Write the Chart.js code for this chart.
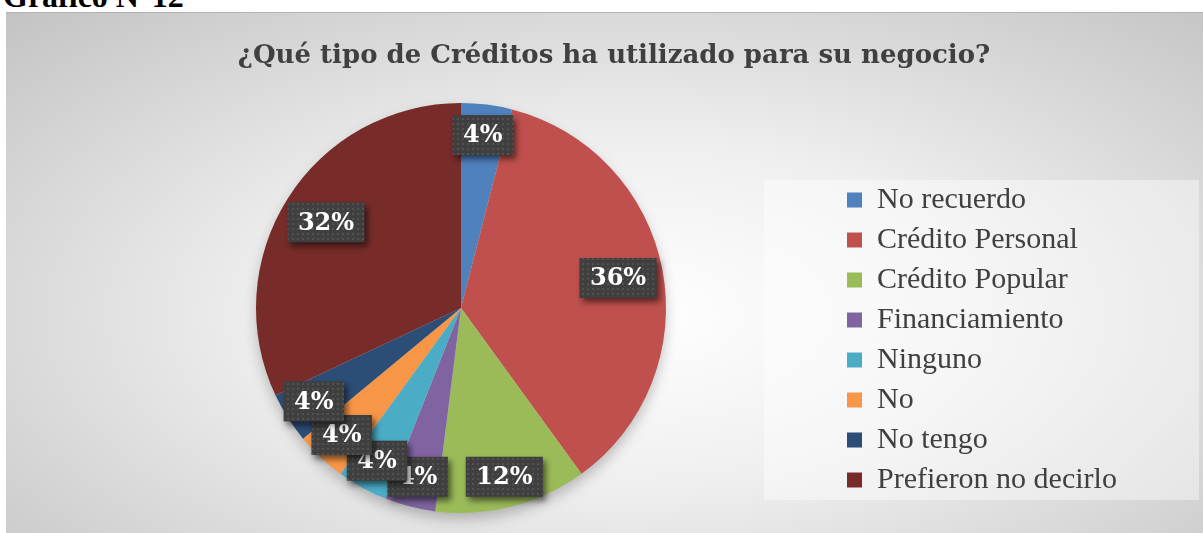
<!DOCTYPE html>
<html lang="es">

<head>
    <meta charset="UTF-8">
    <title>Gráfico N°12</title>
    <script src="https://cdn.jsdelivr.net/npm/chart.js"></script>
    <style>
        body {
            margin: 0;
            width: 1203px;
            height: 533px;
            overflow: hidden;
            position: relative;
            background: #fff;
        }

        .caption {
            position: absolute;
            left: 3px;
            top: -20px;
            font: bold 32px 'Liberation Serif', serif;
            line-height: 32px;
            color: #000;
            white-space: nowrap;
        }

        .chart-box {
            position: absolute;
            left: 6px;
            top: 12px;
            width: 1197px;
            height: 521px;
            background: radial-gradient(ellipse farthest-corner at 52% 58%, #ffffff 0%, #efefef 40%, #c3c3c3 100%);
            box-shadow: inset 0 1px 0 #b3b3b3;
        }

        canvas {
            display: block;
        }
    </style>
</head>

<body>
    <div class="caption">Gráfico N°12</div>
    <div class="chart-box">
        <canvas id="grafico" width="1197" height="521"></canvas>
    </div>

    <script>
        // datos del grafico
        const titulo = '¿Qué tipo de Créditos ha utilizado para su negocio?';
        const categorias = ['No recuerdo', 'Crédito Personal', 'Crédito Popular', 'Financiamiento', 'Ninguno', 'No', 'No tengo', 'Prefieron no decirlo'];
        const porcentajes = [4, 36, 12, 4, 4, 4, 4, 32];
        const colores = ['#4F81BD', '#C0504D', '#9BBB59', '#8064A2', '#4BACC6', '#F79646', '#2C4D75', '#772C2A'];

        const ANCHO = 1197;
        const legendFont = { family: "'Liberation Serif', 'Times New Roman', serif", size: 30 };
        const legendPad = 10;
        const legendBox = 15;
        const legendLeft = 831; // borde izquierdo de la leyenda
        const pieCenterX = 455;
        const titleCenterX = 608;

        // medir el texto mas largo para saber cuanto ocupa la leyenda
        const mctx = document.createElement('canvas').getContext('2d');
        mctx.font = 'normal ' + legendFont.size + 'px ' + legendFont.family;
        const maxText = Math.max(...categorias.map(c => mctx.measureText(c).width));
        const legendWidth = legendPad + legendBox + legendFont.size / 2 + maxText + 10;
        const padRight = ANCHO - legendLeft - legendWidth;
        const padLeft = 2 * pieCenterX - legendLeft;

        // patron de puntos para las cajas de etiquetas
        function patronPuntos() {
            const c = document.createElement('canvas');
            c.width = 5;
            c.height = 5;
            const g = c.getContext('2d');
            g.fillStyle = '#3f3f3f';
            g.fillRect(0, 0, 5, 5);
            g.fillStyle = '#525252';
            g.fillRect(1, 1, 2, 2);
            return c;
        }

        // el titulo va un poco mas a la derecha que el centro del canvas
        const moverTitulo = {
            id: 'moverTitulo',
            afterLayout(chart) {
                const t = chart.titleBlock;
                if (!t) return;
                const dx = titleCenterX - (t.left + t.right) / 2;
                t.left += dx;
                t.right += dx;
            }
        };

        // fondo claro detras de la leyenda
        const fondoLeyenda = {
            id: 'fondoLeyenda',
            beforeDraw(chart) {
                const lg = chart.legend;
                if (!lg || !lg.legendHitBoxes.length) return;
                const first = lg.legendHitBoxes[0];
                const last = lg.legendHitBoxes[lg.legendHitBoxes.length - 1];
                const ctx = chart.ctx;
                ctx.save();
                ctx.fillStyle = 'rgba(255,255,255,0.42)';
                ctx.fillRect(lg.left - 73, first.top - 5, 435, last.top + last.height - first.top + 10);
                ctx.restore();
            }
        };

        // sombra suave debajo del pastel
        const sombra = {
            id: 'sombra',
            beforeDatasetsDraw(chart) {
                const arc = chart.getDatasetMeta(0).data[0];
                if (!arc) return;
                const ctx = chart.ctx;
                ctx.save();
                ctx.shadowColor = 'rgba(0,0,0,0.25)';
                ctx.shadowBlur = 14;
                ctx.shadowOffsetX = 0;
                ctx.shadowOffsetY = 7;
                ctx.fillStyle = '#d8d8d8';
                ctx.beginPath();
                ctx.arc(arc.x, arc.y, arc.outerRadius - 1, 0, Math.PI * 2);
                ctx.fill();
                ctx.restore();
            }
        };

        // etiquetas de porcentaje en cajas oscuras
        const etiquetas = {
            id: 'etiquetas',
            afterDatasetsDraw(chart) {
                const ctx = chart.ctx;
                const meta = chart.getDatasetMeta(0);
                const pattern = ctx.createPattern(patronPuntos(), 'repeat');
                ctx.save();
                ctx.font = "bold 24px 'DejaVu Serif', serif";
                ctx.textAlign = 'center';
                ctx.textBaseline = 'middle';
                meta.data.forEach((arc, i) => {
                    const p = arc.getProps(['x', 'y', 'startAngle', 'endAngle', 'outerRadius'], true);
                    const mid = (p.startAngle + p.endAngle) / 2;
                    const d = p.outerRadius * (porcentajes[i] >= 20 ? 0.78 : 0.85);
                    const cx = p.x + Math.cos(mid) * d;
                    const cy = p.y + Math.sin(mid) * d;
                    const texto = porcentajes[i] + '%';
                    const w = ctx.measureText(texto).width + 21;
                    const h = 40;
                    ctx.save();
                    ctx.shadowColor = 'rgba(0,0,0,0.55)';
                    ctx.shadowBlur = 6;
                    ctx.shadowOffsetX = 3;
                    ctx.shadowOffsetY = 4;
                    ctx.fillStyle = pattern;
                    ctx.fillRect(cx - w / 2, cy - h / 2, w, h);
                    ctx.restore();
                    ctx.fillStyle = '#ffffff';
                    ctx.fillText(texto, cx, cy + 1);
                });
                ctx.restore();
            }
        };

        const ctx = document.getElementById('grafico').getContext('2d');
        new Chart(ctx, {
            type: 'pie',
            data: {
                labels: categorias,
                datasets: [{
                    data: porcentajes,
                    backgroundColor: colores,
                    borderWidth: 0
                }]
            },
            options: {
                responsive: false,
                animation: false,
                devicePixelRatio: 1,
                layout: {
                    padding: { left: padLeft, right: padRight, top: 0, bottom: 20 }
                },
                plugins: {
                    title: {
                        display: true,
                        text: titulo,
                        color: '#404040',
                        font: { family: "'DejaVu Serif', serif", size: 26, weight: 'bold' },
                        padding: { top: 28.4, bottom: 31.4 }
                    },
                    legend: {
                        position: 'right',
                        align: 'start',
                        title: { display: true, text: '', padding: { top: 148.6, bottom: 0 } },
                        labels: {
                            color: '#404040',
                            font: legendFont,
                            boxWidth: legendBox,
                            boxHeight: legendBox,
                            padding: legendPad
                        }
                    },
                    tooltip: { enabled: false }
                }
            },
            plugins: [moverTitulo, fondoLeyenda, sombra, etiquetas]
        });
    </script>
</body>

</html>
